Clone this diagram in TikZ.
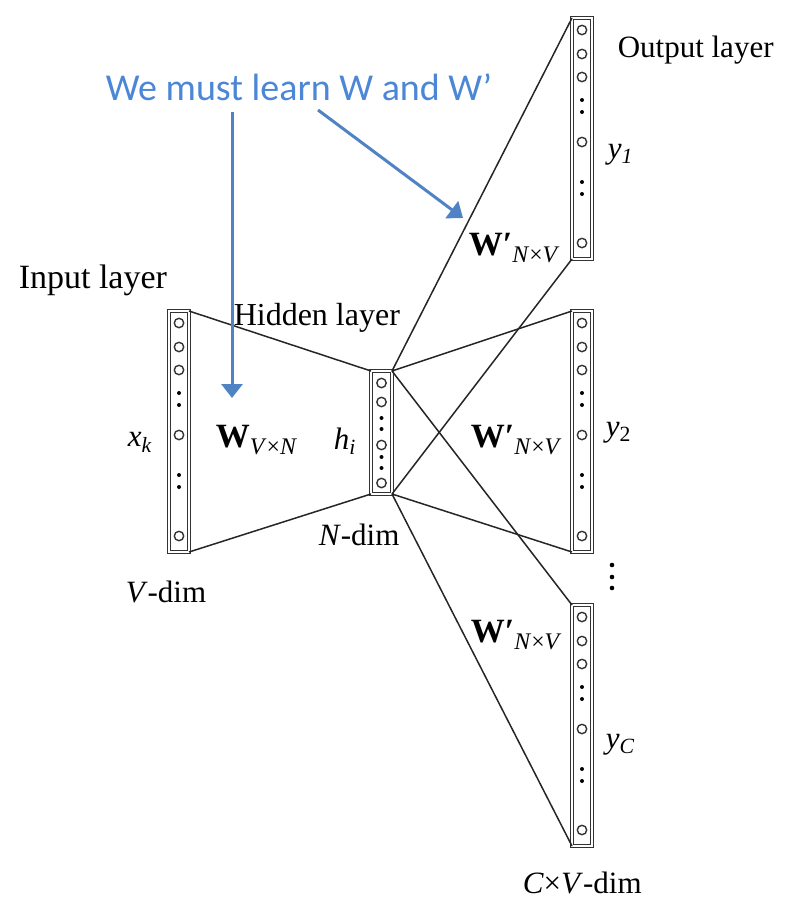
\documentclass[tikz,border=0pt]{standalone}
\usepackage{fontspec}
\setmainfont{Liberation Serif}
\newfontfamily\learnfont{Carlito}
\usepackage{xcolor}
\usetikzlibrary{positioning}
\usetikzlibrary{arrows.meta}
\usetikzlibrary{calc}
\usetikzlibrary{math}

\definecolor{learnblue}{RGB}{76,134,214}
\definecolor{arrowblue}{RGB}{79,131,196}

\begin{document}
\begin{tikzpicture}[
  x=1pt, y=-1pt,
  line width=1.5pt,
  layerbox/.style={draw=black!80, double=white, double distance=1.4pt, line width=0.9pt,
    minimum width=20pt, inner sep=0pt, outer sep=0pt, anchor=north west},
  unit/.style={draw=black!80, line width=1.4pt},
  lbl/.style={font=\fontsize{31}{36}\selectfont, inner sep=0pt, anchor=base west},
  wlbl/.style={lbl, font=\fontsize{34}{40}\selectfont},
  learn/.style={draw=arrowblue, line width=3pt, -{Triangle[width=21pt,length=14pt]}},
  ]

  \tikzmath{
    \barheight  = 241; % height of input and output layers
    \hidheight  = 123; % height of hidden layer
    \unitradius = 4.7; % radius of the unit circles
    \dotradius  = 2.0; % radius of the dots between units
  }

  \useasboundingbox (0,0) rectangle (810,916);

  % Layers
  \node[layerbox, minimum height=\barheight] (in) at (169,311) {};
  \node[layerbox, minimum height=\hidheight, minimum width=21pt] (hid) at (371,371) {};
  \node[layerbox, minimum height=\barheight] (outA) at (572,18) {};
  \node[layerbox, minimum height=\barheight] (outB) at (572,311) {};
  \node[layerbox, minimum height=\barheight] (outC) at (572,605) {};

  % Units of input and output layers
  \foreach \lay in {in, outA, outB, outC} {
    \foreach \dy in {12, 36, 59, 124, 225}
      \draw[unit] ($(\lay.north)+(0,\dy)$) circle (\unitradius);
    \foreach \dy in {82, 94, 164, 176}
      \fill ($(\lay.north)+(0,\dy)$) circle (\dotradius);
  }

  % Units of hidden layer
  \foreach \dy in {12, 31, 74, 112}
    \draw[unit] ($(hid.north)+(0,\dy)$) circle (\unitradius);
  \foreach \dy in {47, 58, 86, 97}
    \fill ($(hid.north)+(0,\dy)$) circle (\dotradius);

  % Weights
  \draw[black!85] (in.north east) -- (hid.north west);
  \draw[black!85] (in.south east) -- (hid.south west);
  \foreach \lay in {outA, outB, outC} {
    \draw[black!85] (hid.north east) -- (\lay.north west);
    \draw[black!85] (hid.south east) -- (\lay.south west);
  }

  % More output layers
  \foreach \dy in {565, 577, 588}
    \fill (612,\dy) circle (2.3);

  % Labels
  \node[lbl, font=\fontsize{34}{40}\selectfont] (inlbl) at (18,288) {Input layer};
  \node[lbl, font=\fontsize{32}{38}\selectfont] (hidlbl) at (233,325) {Hidden layer};
  \node[lbl] (outlbl) at (617,57) {Output layer};
  \node[lbl] (vdim) at (125,602) {\textit{V}-dim};
  \node[lbl] (ndim) at (318,545) {\textit{N}-dim};
  \node[lbl] (cvdim) at (522,893) {\textit{C}×\textit{V}-dim};
  \node[lbl] (xk) at (127,446) {\textit{x}\textsubscript{\textit{k}}};
  \node[lbl] (hi) at (333,449) {\textit{h}\textsubscript{\textit{i}}};
  \node[lbl] (yA) at (607,158) {\textit{y}\textsubscript{\textit{1}}};
  \node[lbl] (yB) at (605,436) {\textit{y}\textsubscript{2}};
  \node[lbl] (yC) at (605,748) {\textit{y}\textsubscript{\textit{C}}};
  \node[wlbl] (win) at (215,447) {\textbf{W}\textsubscript{\textit{V}×\textit{N}}};
  \node[wlbl] (woutA) at (468,255) {\textbf{W′}\textsubscript{\textit{N}×\textit{V}}};
  \node[wlbl] (woutB) at (470,447) {\textbf{W′}\textsubscript{\textit{N}×\textit{V}}};
  \node[wlbl] (woutC) at (470,642) {\textbf{W′}\textsubscript{\textit{N}×\textit{V}}};

  % What has to be learnt
  \node[anchor=base west, inner sep=0pt, text=learnblue,
    font=\learnfont\fontsize{38}{44}\selectfont] (learn) at (105,100) {We must learn W and W’};
  \coordinate (fromW) at (232,112);
  \coordinate (toW) at (232,398);
  \coordinate (fromWp) at (318,110);
  \coordinate (toWp) at (463,218);
  \draw[learn] (fromW) -- (toW);
  \draw[learn] (fromWp) -- (toWp);

\end{tikzpicture}
\end{document}
